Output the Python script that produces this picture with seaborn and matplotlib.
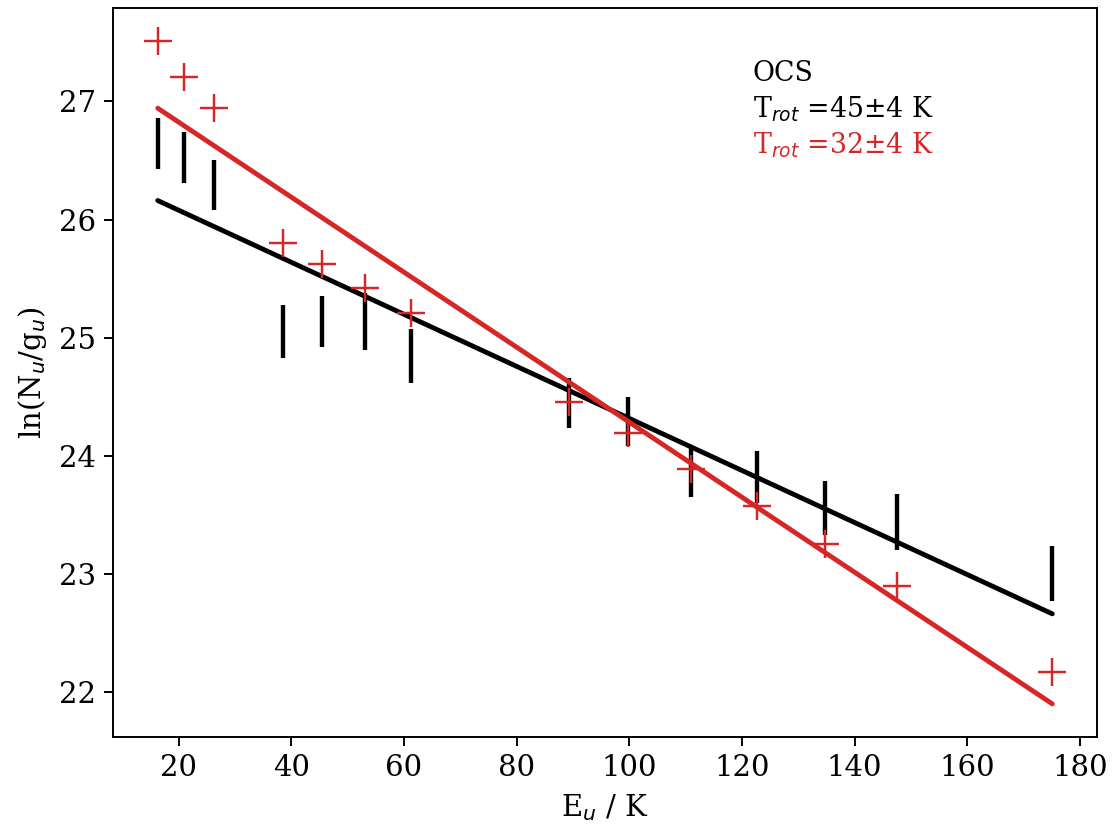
import matplotlib
matplotlib.use("Agg")
import matplotlib.pyplot as plt
import numpy as np
import pandas as pd
import seaborn as sns

# Upper-level energies of the OCS transitions (K)
energies = [16.3, 21.0, 26.3, 38.5, 45.5, 53.1, 61.3, 89.3, 99.8, 110.9, 122.6, 134.8, 147.6, 175.1]

# Black: ln(Nu/gu) with uncertainties
ln_black = [26.645, 26.525, 26.29, 25.055, 25.135, 25.14, 24.845, 24.45, 24.29, 23.865, 23.82, 23.56, 23.44, 23.005]
err_black = [0.215, 0.215, 0.21, 0.225, 0.215, 0.24, 0.225, 0.21, 0.21, 0.215, 0.22, 0.23, 0.24, 0.235]

# Red: ln(Nu/gu)
ln_red = [27.51, 27.21, 26.94, 25.80, 25.62, 25.42, 25.21, 24.46, 24.19, 23.89, 23.58, 23.25, 22.90, 22.17]

# Rotation-diagram fits: ln(Nu/gu) = intercept - Eu / Trot
intercept_black, trot_black, dtrot_black = 26.52, 45.4, 4
intercept_red, trot_red, dtrot_red = 27.46, 31.5, 4

RED = "#d62728"

sns.set_style("ticks")
plt.rcParams["font.family"] = ["DejaVu Serif"]
plt.rcParams["mathtext.fontset"] = "dejavusans"
plt.rcParams["text.color"] = "black"
plt.rcParams["axes.labelcolor"] = "black"
plt.rcParams["xtick.color"] = "black"
plt.rcParams["ytick.color"] = "black"
plt.rcParams["xtick.direction"] = "out"
plt.rcParams["ytick.direction"] = "out"

dpi = 175
fig = plt.figure(figsize=(1116 / dpi, 825 / dpi), dpi=dpi)
ax = fig.add_axes([113 / 1116, 1 - 737 / 825, (1097 - 113) / 1116, (737 - 8) / 825])

df = pd.DataFrame({
    "Eu": energies,
    "black": ln_black,
    "err": err_black,
    "red": ln_red,
})
E = np.asarray(energies)
df["fit_black"] = intercept_black - E / trot_black
df["fit_red"] = intercept_red - E / trot_red

ax.errorbar(df["Eu"], df["black"], yerr=df["err"], fmt="none",
            ecolor="black", elinewidth=1.8, capsize=0)
sns.scatterplot(data=df, x="Eu", y="red", marker="+", s=125, linewidth=1.0,
                color=RED, ax=ax, zorder=3)
sns.lineplot(data=df, x="Eu", y="fit_black", color="black", lw=2.0,
             estimator=None, ax=ax, solid_capstyle="round")
sns.lineplot(data=df, x="Eu", y="fit_red", color=RED, lw=2.0,
             estimator=None, ax=ax, solid_capstyle="round")

for s in ax.spines.values():
    s.set_visible(True)
    s.set_color("black")
    s.set_linewidth(0.8)

ax.set_xticks([20, 40, 60, 80, 100, 120, 140, 160, 180])
ax.set_yticks([22, 23, 24, 25, 26, 27])
ax.tick_params(labelsize=12, length=3.5, width=0.8, color="black", labelcolor="black")
ax.set_xlabel("E$_u$ / K", fontsize=12, color="black")
ax.set_ylabel("ln(N$_u$/g$_u$)", fontsize=12, color="black")
ax.margins(x=0.05, y=0.05)

ax.text(0.65, 0.90, "OCS", transform=ax.transAxes, fontsize=11, color="black")
ax.text(0.65, 0.85, f"T$_{{rot}}$ ={trot_black:.0f}±{dtrot_black} K",
        transform=ax.transAxes, fontsize=11, color="black")
ax.text(0.65, 0.80, f"T$_{{rot}}$ ={trot_red:.0f}±{dtrot_red} K",
        transform=ax.transAxes, fontsize=11, color=RED)

fig.savefig("out.png", dpi=dpi)
